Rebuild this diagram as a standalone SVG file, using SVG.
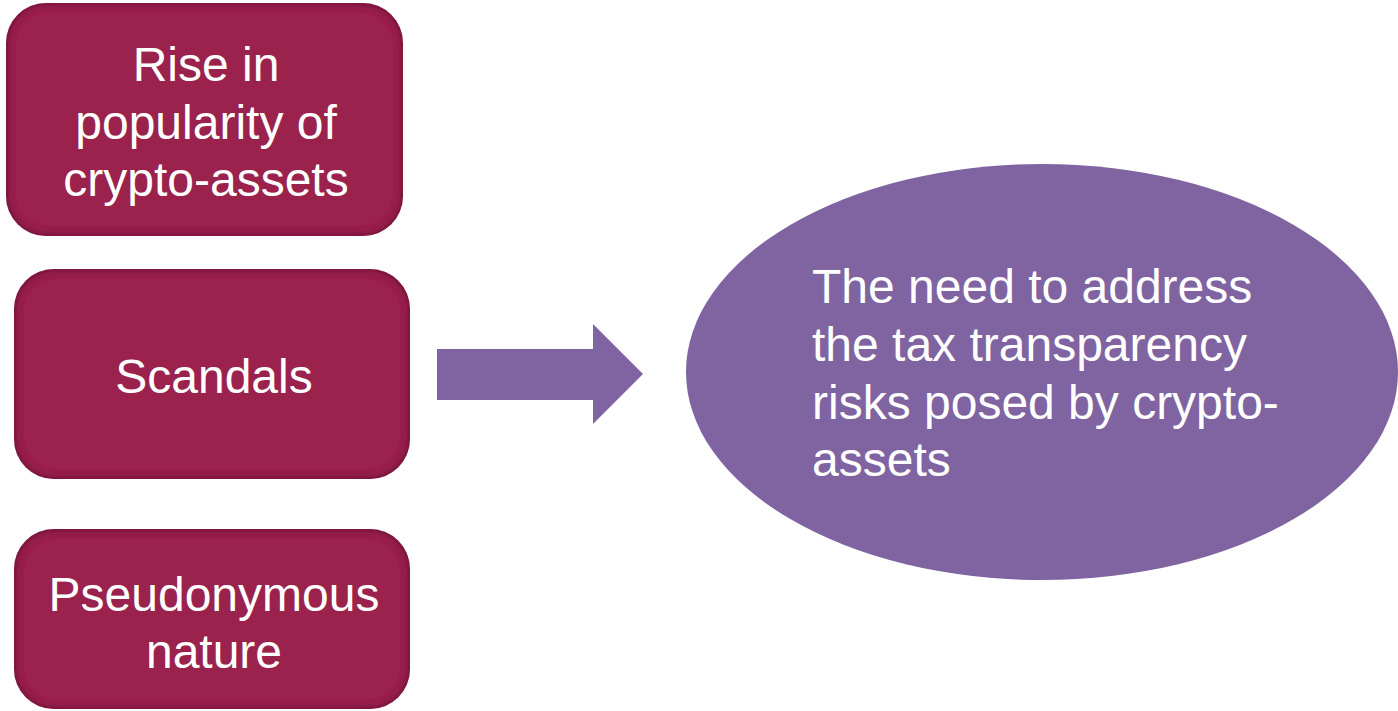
<svg xmlns="http://www.w3.org/2000/svg" width="1398" height="711" viewBox="0 0 1398 711">
  <defs>
    <!-- darkened rim inside the rounded boxes -->
    <filter id="innerShade" x="-5%" y="-5%" width="110%" height="110%">
      <feFlood flood-color="#3c0a1e" flood-opacity="0.9" result="c"/>
      <feComposite in="c" in2="SourceAlpha" operator="out" result="outside"/>
      <feGaussianBlur in="outside" stdDeviation="4" result="blur"/>
      <feComposite in="blur" in2="SourceAlpha" operator="in" result="rim"/>
      <feMerge>
        <feMergeNode in="SourceGraphic"/>
        <feMergeNode in="rim"/>
      </feMerge>
    </filter>
  </defs>
  <style>
    .box { fill: #9a244e; filter: url(#innerShade); }
    .purple { fill: #8064a2; }
    .label { font-family: "Liberation Sans", Arial, sans-serif; font-size: 48px; fill: #ffffff; }
    .mid { text-anchor: middle; }
  </style>

  <rect width="1398" height="711" fill="#ffffff"/>

  <g id="node-rise">
    <rect class="box" x="6" y="3" width="397" height="233" rx="40" ry="40"/>
    <text class="label mid" x="206" y="81">Rise in</text>
    <text class="label mid" x="206" y="139">popularity of</text>
    <text class="label mid" x="206" y="196">crypto-assets</text>
  </g>

  <g id="node-scandals">
    <rect class="box" x="14" y="269" width="396" height="210" rx="40" ry="40"/>
    <text class="label mid" x="214" y="393">Scandals</text>
  </g>

  <g id="node-pseudonymous">
    <rect class="box" x="14" y="529" width="396" height="180" rx="40" ry="40"/>
    <text class="label mid" x="214" y="611">Pseudonymous</text>
    <text class="label mid" x="214" y="668">nature</text>
  </g>

  <g id="connectors">
    <polygon class="purple" points="437,349 593,349 593,324 643,374 593,424 593,400 437,400"/>
  </g>

  <g id="node-need">
    <ellipse class="purple" cx="1042" cy="372" rx="356" ry="208"/>
    <text class="label" x="812" y="303">The need to address</text>
    <text class="label" x="812" y="361">the tax transparency</text>
    <text class="label" x="812" y="419">risks posed by crypto-</text>
    <text class="label" x="812" y="476">assets</text>
  </g>
</svg>
